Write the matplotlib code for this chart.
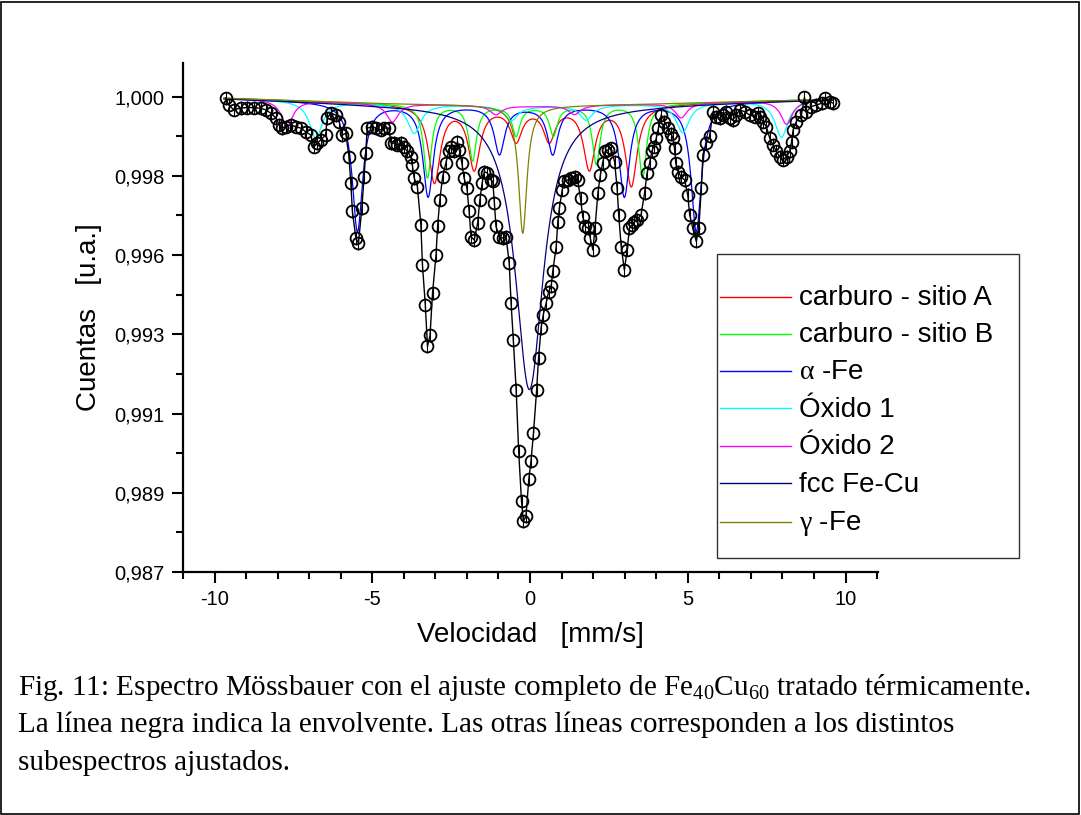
import numpy as np
import matplotlib
matplotlib.use('Agg')
import matplotlib.pyplot as plt
from matplotlib.lines import Line2D
from matplotlib.patches import Rectangle

# espectro medido (velocidad en mm/s, cuentas normalizadas)
velocity = [-9.65, -9.55, -9.39, -9.17, -8.97, -8.75, -8.54, -8.38, -8.22, -8.06,
            -7.95, -7.86, -7.75, -7.59, -7.43, -7.27, -7.11, -6.95, -6.85, -6.74,
            -6.63, -6.48, -6.43, -6.32, -6.16, -6.05, -5.95, -5.84, -5.74, -5.68,
            -5.63, -5.52, -5.44, -5.33, -5.26, -5.21, -5.16, -5.00, -4.89, -4.73,
            -4.63, -4.47, -4.41, -4.31, -4.21, -4.10, -4.00, -3.89, -3.78, -3.73,
            -3.67, -3.57, -3.46, -3.41, -3.32, -3.25, -3.17, -3.09, -2.98, -2.93,
            -2.86, -2.77, -2.67, -2.58, -2.51, -2.40, -2.30, -2.24, -2.16, -2.09,
            -2.00, -1.93, -1.87, -1.77, -1.66, -1.59, -1.52, -1.45, -1.35, -1.24,
            -1.18, -1.13, -1.08, -0.97, -0.87, -0.76, -0.66, -0.60, -0.53, -0.44,
            -0.36, -0.27, -0.21, -0.13, -0.04, 0.03, 0.11, 0.21, 0.27, 0.35,
            0.42, 0.51, 0.59, 0.67, 0.72, 0.83, 0.88, 0.93, 1.02, 1.09,
            1.19, 1.30, 1.41, 1.51, 1.60, 1.67, 1.75, 1.85, 1.91, 1.99,
            2.06, 2.15, 2.23, 2.30, 2.38, 2.46, 2.57, 2.68, 2.76, 2.81,
            2.89, 2.99, 3.08, 3.15, 3.23, 3.31, 3.40, 3.52, 3.63, 3.71,
            3.79, 3.86, 3.92, 4.00, 4.07, 4.16, 4.26, 4.37, 4.48, 4.53,
            4.58, 4.62, 4.69, 4.79, 4.90, 5.00, 5.06, 5.16, 5.27, 5.35,
            5.43, 5.48, 5.59, 5.69, 5.80, 5.90, 6.01, 6.11, 6.22, 6.33,
            6.43, 6.54, 6.64, 6.80, 6.96, 7.12, 7.23, 7.28, 7.38, 7.49,
            7.60, 7.70, 7.81, 7.91, 8.02, 8.13, 8.23, 8.29, 8.34, 8.44,
            8.60, 8.70, 8.76, 8.92, 9.08, 9.24, 9.34, 9.50, 9.61]
counts = [0.99996, 0.99977, 0.99964, 0.99969, 0.99970, 0.99970, 0.99968, 0.99964, 0.99955, 0.99942,
          0.99923, 0.99914, 0.99918, 0.99923, 0.99918, 0.99914, 0.99904, 0.99895, 0.99863, 0.99873,
          0.99882, 0.99895, 0.99941, 0.99955, 0.99950, 0.99932, 0.99895, 0.99900, 0.99836, 0.99763,
          0.99686, 0.99613, 0.99599, 0.99695, 0.99781, 0.99845, 0.99914, 0.99918, 0.99914, 0.99909,
          0.99914, 0.99914, 0.99873, 0.99873, 0.99868, 0.99873, 0.99863, 0.99850, 0.99836, 0.99813,
          0.99777, 0.99754, 0.99649, 0.99540, 0.99431, 0.99317, 0.99347, 0.99463, 0.99567, 0.99645,
          0.99718, 0.99781, 0.99818, 0.99850, 0.99863, 0.99850, 0.99877, 0.99854, 0.99818, 0.99777,
          0.99750, 0.99686, 0.99617, 0.99608, 0.99654, 0.99718, 0.99763, 0.99795, 0.99791, 0.99772,
          0.99768, 0.99709, 0.99645, 0.99617, 0.99613, 0.99617, 0.99545, 0.99435, 0.99335, 0.99199,
          0.99030, 0.98893, 0.98839, 0.98852, 0.98953, 0.99003, 0.99080, 0.99199, 0.99285, 0.99367,
          0.99404, 0.99435, 0.99467, 0.99481, 0.99522, 0.99590, 0.99658, 0.99695, 0.99745, 0.99768,
          0.99772, 0.99777, 0.99781, 0.99772, 0.99722, 0.99672, 0.99645, 0.99640, 0.99613, 0.99581,
          0.99640, 0.99736, 0.99786, 0.99818, 0.99850, 0.99854, 0.99859, 0.99822, 0.99750, 0.99677,
          0.99590, 0.99526, 0.99581, 0.99640, 0.99649, 0.99658, 0.99663, 0.99677, 0.99736, 0.99791,
          0.99818, 0.99850, 0.99863, 0.99886, 0.99914, 0.99950, 0.99932, 0.99914, 0.99898, 0.99886,
          0.99859, 0.99818, 0.99795, 0.99781, 0.99772, 0.99731, 0.99677, 0.99640, 0.99604, 0.99640,
          0.99750, 0.99841, 0.99873, 0.99891, 0.99959, 0.99945, 0.99941, 0.99950, 0.99959, 0.99941,
          0.99936, 0.99950, 0.99964, 0.99959, 0.99950, 0.99945, 0.99955, 0.99945, 0.99932, 0.99918,
          0.99886, 0.99868, 0.99850, 0.99836, 0.99827, 0.99836, 0.99850, 0.99877, 0.99909, 0.99932,
          0.99950, 0.99998, 0.99959, 0.99973, 0.99977, 0.99982, 0.99996, 0.99986, 0.99982]

# línea base común de los subespectros
base_v = [-9.7, -5.0, 0.0, 3.8, 9.6]
base_c = [0.99996, 0.99982, 0.99974, 0.99980, 0.99993]

# subespectros: posición de cada línea, profundidad y ancho (mm/s)
carb_a_pos = [-3.03, -1.77, -0.44, 0.61, 1.88, 3.21]
carb_a_depth = [0.0021, 0.0017, 0.0009, 0.0009, 0.0017, 0.0022]
carb_a_width = 0.45
carb_b_pos = [-3.25, -1.82, -0.44, 0.74, 2.10, 3.57]
carb_b_depth = [0.0020, 0.0015, 0.0008, 0.0008, 0.0016, 0.0020]
carb_b_width = 0.30
alfa_pos = [-5.47, -3.23, -0.97, 0.72, 2.99, 5.27]
alfa_depth = [0.0035, 0.0025, 0.0013, 0.0013, 0.0025, 0.0035]
alfa_width = 0.40
ox1_pos = [-6.79, -3.67, -0.60, 1.78, 4.84, 7.97]
ox1_depth = [0.0010, 0.0008, 0.0004, 0.0004, 0.0008, 0.0010]
ox1_width = 0.50
ox2_pos = [-7.70, -4.36, -1.08, 1.41, 4.79, 8.13]
ox2_depth = [0.0007, 0.0005, 0.00025, 0.00025, 0.0004, 0.00065]
ox2_width = 0.45
fcc_pos = [-0.02]
fcc_depth = [0.00775]
fcc_width = 1.08
gamma_pos = [-0.23]
gamma_depth = [0.00348]
gamma_width = 0.32

labels = ['carburo - sitio A', 'carburo - sitio B', r'$\alpha$ -Fe', 'Óxido 1',
          'Óxido 2', 'fcc Fe-Cu', r'$\gamma$ -Fe']
colors = ['#ff0000', '#00ff00', '#0000ff', '#00ffff', '#ff00ff', '#000080', '#808000']

plt.rcParams['font.family'] = ['Liberation Sans', 'DejaVu Sans']
plt.rcParams['mathtext.fontset'] = 'custom'
plt.rcParams['mathtext.rm'] = 'Liberation Serif'
plt.rcParams['mathtext.it'] = 'Liberation Serif'

W, H = 1081, 815
fig = plt.figure(figsize=(W / 100, H / 100), dpi=100)
ax = fig.add_axes([183 / W, (H - 572) / H, 695 / W, 509 / H])

vv = np.linspace(-9.7, 9.6, 3000)
base = np.interp(vv, base_v, base_c)

def sub(pos, depth, width):
    y = base.copy()
    for p, d in zip(pos, depth):
        y -= d / (1 + ((vv - p) / (width / 2)) ** 2)
    return y

comps = [(carb_a_pos, carb_a_depth, carb_a_width),
         (carb_b_pos, carb_b_depth, carb_b_width),
         (alfa_pos, alfa_depth, alfa_width),
         (ox1_pos, ox1_depth, ox1_width),
         (ox2_pos, ox2_depth, ox2_width),
         (fcc_pos, fcc_depth, fcc_width),
         (gamma_pos, gamma_depth, gamma_width)]
for (p, d, w), c in zip(comps, colors):
    ax.plot(vv, sub(p, d, w), color=c, lw=0.9, zorder=2)

ax.plot(velocity, counts, color='k', lw=1.0, zorder=3)
ax.errorbar(velocity, counts, yerr=0.00018, fmt='o', mfc='none', mec='k', ecolor='k',
            elinewidth=0.8, capsize=0, ms=8.5, mew=1.3, zorder=4)

ax.set_xlim(-11.0, 11.03)
ax.set_ylim(0.987, 1.00092)
ax.set_xticks([-10, -5, 0, 5, 10])
ax.set_xticklabels(['-10', '-5', '0', '5', '10'])
ax.set_xticks(np.arange(-11, 12, 1), minor=True)
yt = np.linspace(0.987, 1.0, 7)
ax.set_yticks(yt)
ax.set_yticklabels(['0,987', '0,989', '0,991', '0,993', '0,996', '0,998', '1,000'])
ax.set_yticks((yt[:-1] + yt[1:]) / 2, minor=True)
for s in ['top', 'right']:
    ax.spines[s].set_visible(False)
for s in ['left', 'bottom']:
    ax.spines[s].set_linewidth(1.6)
ax.tick_params(which='major', length=8, width=1.5, labelsize=14.5, pad=5)
ax.tick_params(which='minor', length=5, width=1.5)
ax.set_xlabel('Velocidad   [mm/s]', fontsize=20, labelpad=9)
ax.set_ylabel('Cuentas   [u.a.]', fontsize=20, labelpad=9)

# leyenda dibujada en coordenadas de figura
fig.add_artist(Rectangle((716.7 / W, (H - 558) / H), 302.3 / W, 304 / H,
                         transform=fig.transFigure, fill=False, ec='#333333', lw=1.0))
entry_y = [296.7, 333.7, 371, 408.3, 446, 483.3, 521.7]
for lab, c, yy in zip(labels, colors, entry_y):
    fig.add_artist(Line2D([720 / W, 791 / W], [(H - yy) / H] * 2, color=c, lw=1.0,
                          transform=fig.transFigure))
    fig.text(799 / W, (H - yy - 8.3) / H, lab, fontsize=20, va='baseline', ha='left')

# marco de la figura
fig.add_artist(Rectangle((0.001, 0.001), 0.997, 0.997, transform=fig.transFigure,
                         fill=False, ec='k', lw=1.2))

cap = ['Fig. 11: Espectro Mössbauer con el ajuste completo de Fe$_{\\mathrm{40}}$Cu$_{\\mathrm{60}}$ tratado térmicamente.',
       'La línea negra indica la envolvente. Las otras líneas corresponden a los distintos',
       'subespectros ajustados.']
for i, t in enumerate(cap):
    fig.text(18 / W, (H - 695 - 37.5 * i) / H, t, fontsize=21, family='Liberation Serif',
             va='baseline', ha='left')

fig.savefig('out.png', dpi=100)
